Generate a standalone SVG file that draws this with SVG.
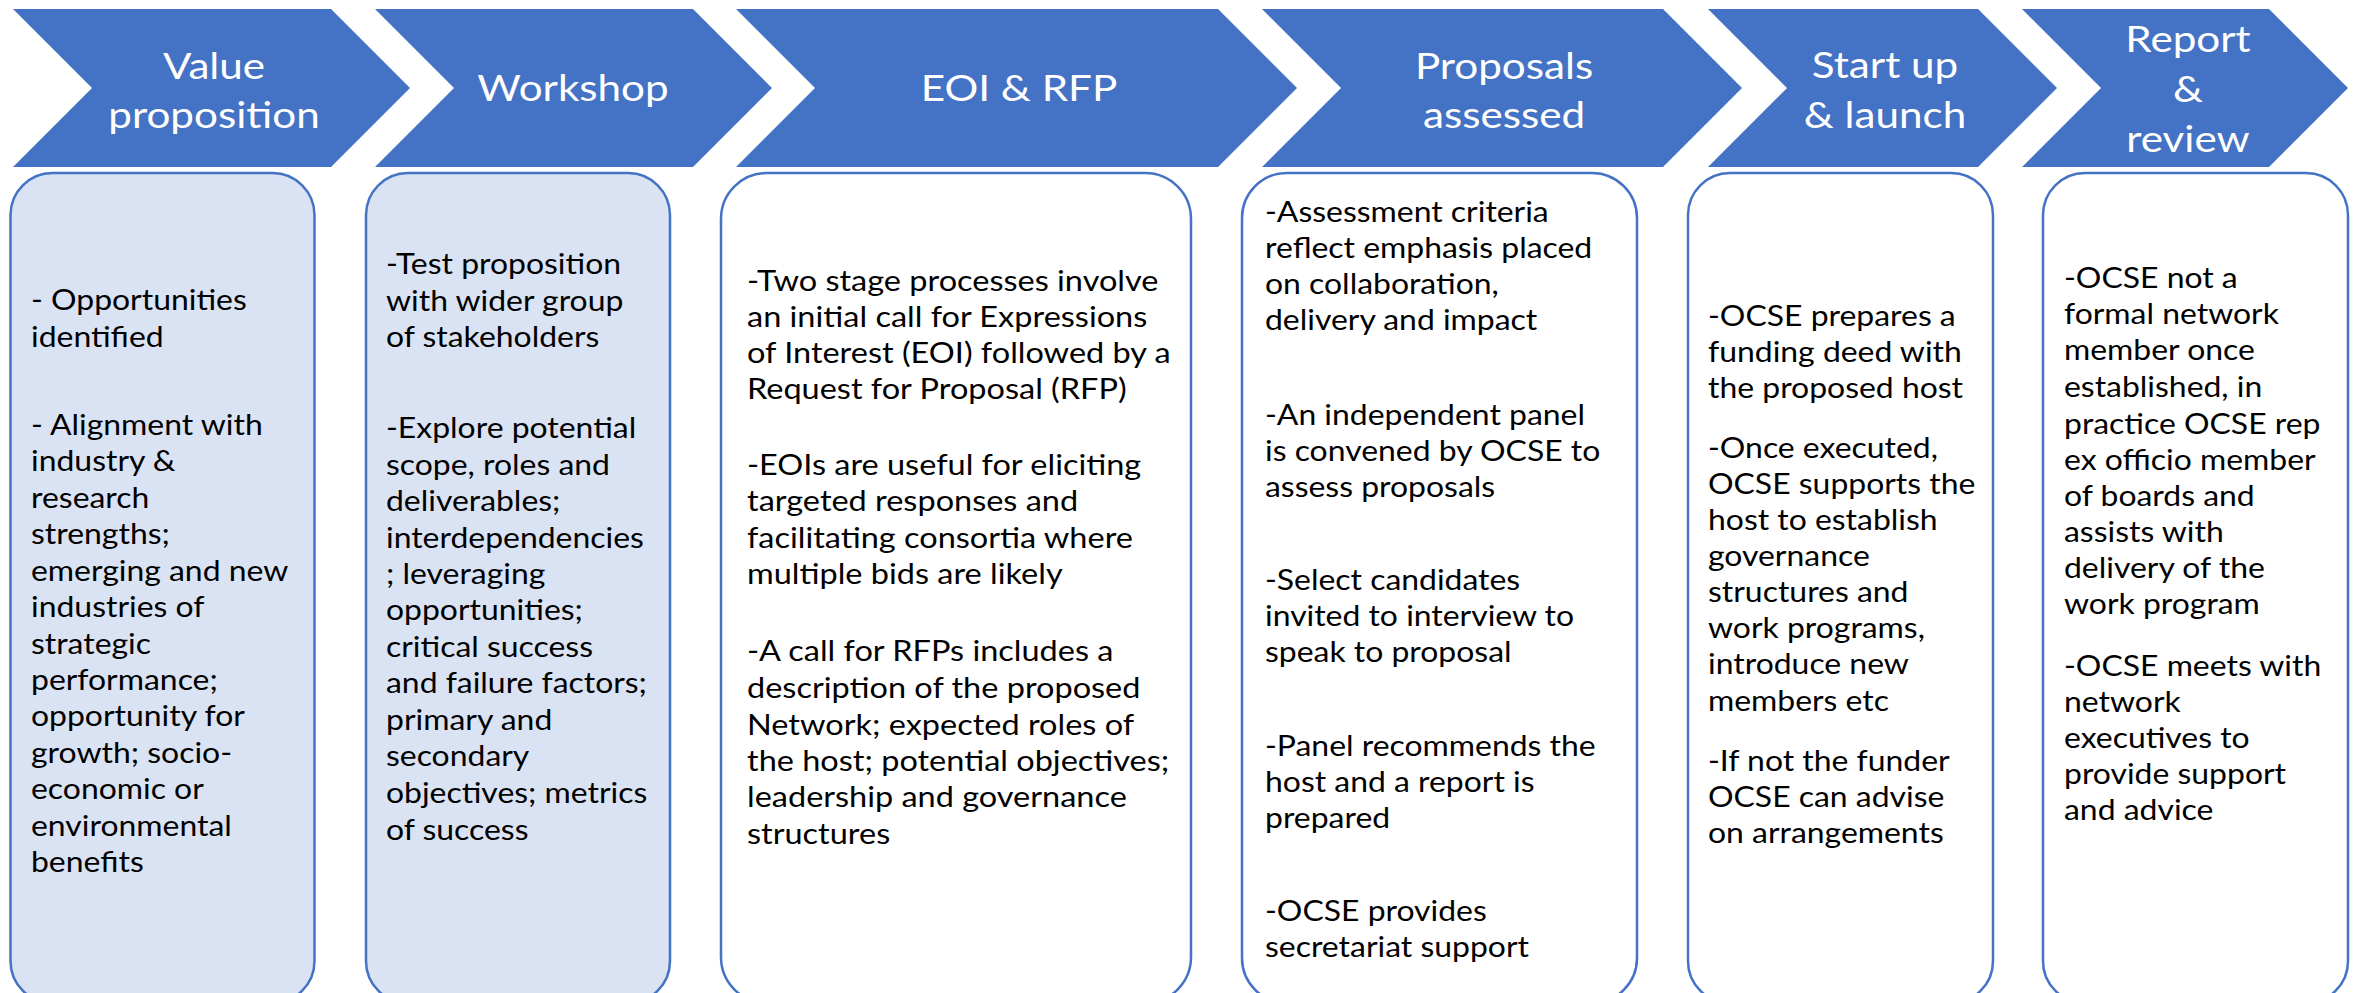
<svg xmlns="http://www.w3.org/2000/svg" width="2358" height="993" viewBox="0 0 2358 993">
<style>
.chev{fill:#4472C4;}
.box{stroke:#4472C4;stroke-width:2.5;fill:#FFFFFF;}
.box.tint{fill:#DAE3F3;}
.hd{font-family:Lato,"Liberation Sans",sans-serif;font-weight:400;font-size:37px;fill:#FFFFFF;text-anchor:middle;}
.bd{font-family:Lato,"Liberation Sans",sans-serif;font-size:28px;fill:#000000;}
</style>
<rect width="2358" height="993" fill="#FFFFFF"/>
<g id="connectors"/>

<g id="stage-value-proposition">
<polygon class="chev" points="13,9 331,9 410,88 331,167 13,167 92,88"/>
<text class="hd" transform="translate(214,0) scale(1.14,1)"><tspan x="0" y="79">Value</tspan><tspan x="0" y="128">proposition</tspan></text>
<rect class="box tint" x="10.5" y="173" width="304" height="830" rx="42"/>
<text class="bd" transform="translate(31,0) scale(1.14,1)">
<tspan x="0" y="310">- Opportunities</tspan>
<tspan x="0" y="347">identified</tspan>
<tspan x="0" y="435">- Alignment with</tspan>
<tspan x="0" y="471">industry &amp;</tspan>
<tspan x="0" y="508">research</tspan>
<tspan x="0" y="544">strengths;</tspan>
<tspan x="0" y="581">emerging and new</tspan>
<tspan x="0" y="617">industries of</tspan>
<tspan x="0" y="654">strategic</tspan>
<tspan x="0" y="690">performance;</tspan>
<tspan x="0" y="726">opportunity for</tspan>
<tspan x="0" y="763">growth; socio-</tspan>
<tspan x="0" y="799">economic or</tspan>
<tspan x="0" y="836">environmental</tspan>
<tspan x="0" y="872">benefits</tspan>
</text>
</g>

<g id="stage-workshop">
<polygon class="chev" points="375,9 693,9 772,88 693,167 375,167 454,88"/>
<text class="hd" transform="translate(573,0) scale(1.14,1)"><tspan x="0" y="101">Workshop</tspan></text>
<rect class="box tint" x="366" y="173" width="304" height="830" rx="42"/>
<text class="bd" transform="translate(386,0) scale(1.14,1)">
<tspan x="0" y="274">-Test proposition</tspan>
<tspan x="0" y="311">with wider group</tspan>
<tspan x="0" y="347">of stakeholders</tspan>
<tspan x="0" y="438">-Explore potential</tspan>
<tspan x="0" y="475">scope, roles and</tspan>
<tspan x="0" y="511">deliverables;</tspan>
<tspan x="0" y="548">interdependencies</tspan>
<tspan x="0" y="584">; leveraging</tspan>
<tspan x="0" y="620">opportunities;</tspan>
<tspan x="0" y="657">critical success</tspan>
<tspan x="0" y="693">and failure factors;</tspan>
<tspan x="0" y="730">primary and</tspan>
<tspan x="0" y="766">secondary</tspan>
<tspan x="0" y="803">objectives; metrics</tspan>
<tspan x="0" y="840">of success</tspan>
</text>
</g>

<g id="stage-eoi-rfp">
<polygon class="chev" points="736,9 1218,9 1297,88 1218,167 736,167 815,88"/>
<text class="hd" transform="translate(1019,0) scale(1.14,1)"><tspan x="0" y="101">EOI &amp; RFP</tspan></text>
<rect class="box" x="721" y="173" width="470" height="830" rx="46"/>
<text class="bd" transform="translate(747,0) scale(1.16,1)">
<tspan x="0" y="291">-Two stage processes involve</tspan>
<tspan x="0" y="327">an initial call for Expressions</tspan>
<tspan x="0" y="363">of Interest (EOI) followed by a</tspan>
<tspan x="0" y="399">Request for Proposal (RFP)</tspan>
<tspan x="0" y="475">-EOIs are useful for eliciting</tspan>
<tspan x="0" y="511">targeted responses and</tspan>
<tspan x="0" y="548">facilitating consortia where</tspan>
<tspan x="0" y="584">multiple bids are likely</tspan>
<tspan x="0" y="661">-A call for RFPs includes a</tspan>
<tspan x="0" y="698">description of the proposed</tspan>
<tspan x="0" y="735">Network; expected roles of</tspan>
<tspan x="0" y="771">the host; potential objectives;</tspan>
<tspan x="0" y="807">leadership and governance</tspan>
<tspan x="0" y="844">structures</tspan>
</text>
</g>

<g id="stage-proposals-assessed">
<polygon class="chev" points="1262,9 1663,9 1742,88 1663,167 1262,167 1341,88"/>
<text class="hd" transform="translate(1504,0) scale(1.14,1)"><tspan x="0" y="79">Proposals</tspan><tspan x="0" y="128">assessed</tspan></text>
<rect class="box" x="1242" y="173" width="395" height="830" rx="45"/>
<text class="bd" transform="translate(1265,0) scale(1.14,1)">
<tspan x="0" y="222">-Assessment criteria</tspan>
<tspan x="0" y="258">reflect emphasis placed</tspan>
<tspan x="0" y="294">on collaboration,</tspan>
<tspan x="0" y="330">delivery and impact</tspan>
<tspan x="0" y="425">-An independent panel</tspan>
<tspan x="0" y="461">is convened by OCSE to</tspan>
<tspan x="0" y="497">assess proposals</tspan>
<tspan x="0" y="590">-Select candidates</tspan>
<tspan x="0" y="626">invited to interview to</tspan>
<tspan x="0" y="662">speak to proposal</tspan>
<tspan x="0" y="756">-Panel recommends the</tspan>
<tspan x="0" y="792">host and a report is</tspan>
<tspan x="0" y="828">prepared</tspan>
<tspan x="0" y="921">-OCSE provides</tspan>
<tspan x="0" y="957">secretariat support</tspan>
</text>
</g>

<g id="stage-start-up-launch">
<polygon class="chev" points="1708,9 1978,9 2057,88 1978,167 1708,167 1787,88"/>
<text class="hd" transform="translate(1885,0) scale(1.14,1)"><tspan x="0" y="78">Start up</tspan><tspan x="0" y="128">&amp; launch</tspan></text>
<rect class="box" x="1688" y="173" width="305" height="830" rx="42"/>
<text class="bd" transform="translate(1708,0) scale(1.14,1)">
<tspan x="0" y="326">-OCSE prepares a</tspan>
<tspan x="0" y="362">funding deed with</tspan>
<tspan x="0" y="398">the proposed host</tspan>
<tspan x="0" y="458">-Once executed,</tspan>
<tspan x="0" y="494">OCSE supports the</tspan>
<tspan x="0" y="530">host to establish</tspan>
<tspan x="0" y="566">governance</tspan>
<tspan x="0" y="602">structures and</tspan>
<tspan x="0" y="638">work programs,</tspan>
<tspan x="0" y="674">introduce new</tspan>
<tspan x="0" y="711">members etc</tspan>
<tspan x="0" y="771">-If not the funder</tspan>
<tspan x="0" y="807">OCSE can advise</tspan>
<tspan x="0" y="843">on arrangements</tspan>
</text>
</g>

<g id="stage-report-review">
<polygon class="chev" points="2022,9 2269,9 2348,88 2269,167 2022,167 2101,88"/>
<text class="hd" transform="translate(2188,0) scale(1.14,1)"><tspan x="0" y="52">Report</tspan><tspan x="0" y="102">&amp;</tspan><tspan x="0" y="152">review</tspan></text>
<rect class="box" x="2043" y="173" width="305" height="830" rx="42"/>
<text class="bd" transform="translate(2064,0) scale(1.14,1)">
<tspan x="0" y="288">-OCSE not a</tspan>
<tspan x="0" y="324">formal network</tspan>
<tspan x="0" y="360">member once</tspan>
<tspan x="0" y="397">established, in</tspan>
<tspan x="0" y="434">practice OCSE rep</tspan>
<tspan x="0" y="470">ex officio member</tspan>
<tspan x="0" y="506">of boards and</tspan>
<tspan x="0" y="542">assists with</tspan>
<tspan x="0" y="578">delivery of the</tspan>
<tspan x="0" y="614">work program</tspan>
<tspan x="0" y="676">-OCSE meets with</tspan>
<tspan x="0" y="712">network</tspan>
<tspan x="0" y="748">executives to</tspan>
<tspan x="0" y="784">provide support</tspan>
<tspan x="0" y="820">and advice</tspan>
</text>
</g>
</svg>
